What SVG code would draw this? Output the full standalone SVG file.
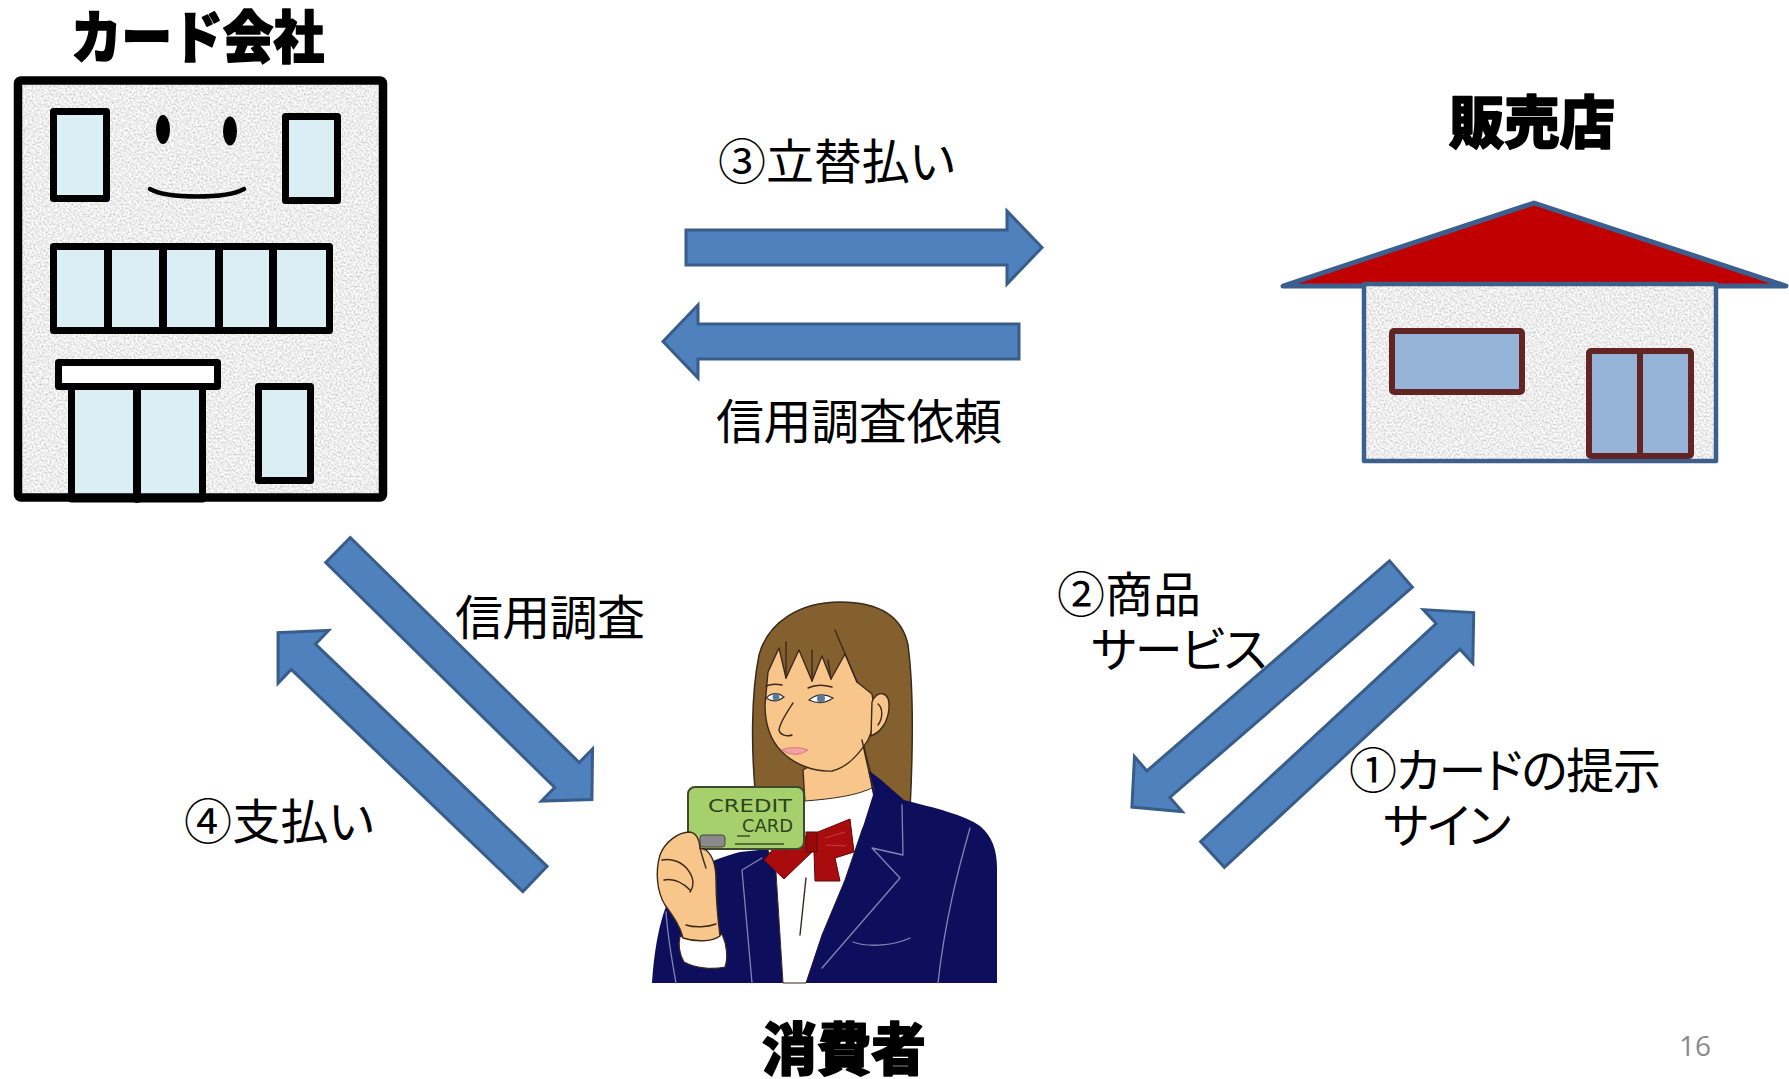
<svg xmlns="http://www.w3.org/2000/svg" width="1789" height="1079" viewBox="0 0 1789 1079">
  <style>
    .ttl { font-family: "Noto Sans CJK JP", "Noto Sans CJK SC", sans-serif; font-weight: 900; font-size: 57px; fill: #000; stroke: #000; stroke-width: 1.6; stroke-linejoin: round; }
    .lbl { font-family: "Noto Sans CJK JP", "Noto Sans CJK SC", sans-serif; font-size: 48px; fill: #000; font-feature-settings: "palt"; }
    .flow { fill: #4f81bd; stroke: #385d8a; stroke-width: 3; }
    .pane { fill: #daeef3; stroke: #000; stroke-width: 7; stroke-linejoin: round; }
    .bk { fill: none; stroke: #000; stroke-width: 8; stroke-linecap: round; stroke-linejoin: round; }
    .shopwin { fill: #95b3d7; stroke: #632523; stroke-width: 6; stroke-linejoin: round; }
    .ink { fill: none; stroke: #3b2a1c; stroke-width: 1.4; stroke-linecap: round; stroke-linejoin: round; }
    .skin { fill: #f8c68a; stroke: #3b2a1c; stroke-width: 1.4; stroke-linejoin: round; }
    .seam { fill: none; stroke: #8284b4; stroke-width: 1.3; stroke-linecap: round; stroke-linejoin: round; }
    .cardtxt { font-family: "DejaVu Sans", sans-serif; font-size: 17px; fill: #2d4420; }
  </style>
  <defs>
    <!-- speckled plaster finish for the walls -->
    <filter id="stucco" x="0" y="0" width="1" height="1" color-interpolation-filters="sRGB">
      <feTurbulence type="fractalNoise" baseFrequency="0.5" numOctaves="3" seed="7" result="noise"/>
      <feColorMatrix in="noise" type="matrix" values="0.4 0 0 0 0.73  0.4 0 0 0 0.73  0.4 0 0 0 0.73  0 0 0 0 1" result="grain"/>
      <feComposite in="grain" in2="SourceGraphic" operator="in"/>
    </filter>
    <!-- block arrow, tail centre at origin, pointing along +x -->
    <path id="flowArrow" d="M 0 -17.5 H 321 V -36.5 L 356 0 L 321 36.5 V 17.5 H 0 Z"/>
  </defs>

  <rect width="1789" height="1079" fill="#fff"/>

  <!-- Card company building -->
  <g id="card-company">
    <text class="ttl" x="71" y="58" textLength="253" lengthAdjust="spacingAndGlyphs">カード会社</text>
    <rect x="18" y="80.5" width="365" height="417" fill="#ececec" filter="url(#stucco)"/>
    <rect class="pane" x="53.5" y="111.5" width="53" height="87"/>
    <rect class="pane" x="285.5" y="116.5" width="52" height="84"/>
    <ellipse cx="163" cy="129.5" rx="7" ry="14.5" fill="#000"/>
    <ellipse cx="230" cy="131" rx="7" ry="14.5" fill="#000"/>
    <path d="M 150 189 C 168 199, 226 199, 244 189" fill="none" stroke="#000" stroke-width="4.5" stroke-linecap="round"/>
    <rect class="pane" x="53.5" y="246.5" width="276" height="84"/>
    <path class="bk" d="M 108 248 V 329 M 163 248 V 329 M 219 248 V 329 M 273 248 V 329"/>
    <rect class="pane" x="71.5" y="386" width="131" height="113"/>
    <path class="bk" d="M 137 388 V 499"/>
    <rect x="58.5" y="362.5" width="159" height="24" fill="#fff" stroke="#000" stroke-width="7" stroke-linejoin="round"/>
    <rect class="pane" x="258.5" y="386.5" width="52" height="94"/>
    <rect x="18" y="80.5" width="365" height="417" rx="3" fill="none" stroke="#000" stroke-width="8.5"/>
  </g>

  <!-- Shop -->
  <g id="shop">
    <text class="ttl" x="1449" y="143" textLength="166" lengthAdjust="spacingAndGlyphs">販売店</text>
    <path d="M 1283 286 L 1534 203 L 1786 286 Z" fill="#c00000" stroke="#3b5f8f" stroke-width="5" stroke-linejoin="round"/>
    <rect x="1364" y="284" width="352" height="177" fill="#ececec" filter="url(#stucco)"/>
    <rect x="1364" y="284" width="352" height="177" fill="none" stroke="#3d5f8c" stroke-width="4.5" stroke-linejoin="round"/>
    <rect class="shopwin" x="1392" y="331" width="130" height="61" rx="2"/>
    <rect class="shopwin" x="1589" y="351" width="102" height="105" rx="2"/>
    <path d="M 1640 351 V 456" stroke="#632523" stroke-width="6"/>
  </g>

  <!-- Consumer -->
  <g id="consumer">
    <!-- hair behind head -->
    <path d="M 756 800 C 751 750, 751 695, 759 655 C 768 622, 800 602, 840 602 C 878 602, 902 616, 908 645 C 914 690, 913 750, 910 810 L 870 810 L 760 802 Z" fill="#84602f" stroke="#3b2a1c" stroke-width="1.5"/>
    <!-- neck -->
    <path class="skin" d="M 803 770 L 862 736 C 866 758, 870 775, 877 788 C 858 797, 830 800, 805 803 Z"/>
    <!-- jacket, left side -->
    <path d="M 652 983 C 654 950, 660 915, 672 893 C 685 872, 710 860, 740 852 L 768 849 L 776 872 L 783 983 Z" fill="#0e0f5c"/>
    <!-- shirt -->
    <path d="M 768 850 L 785 830 L 805 801 C 830 799, 858 796, 876 786 L 880 792 L 862 830 L 845 880 L 822 935 L 806 983 L 783 983 L 776 872 Z" fill="#fff" stroke="#3b2a1c" stroke-width="1"/>
    <path d="M 806 878 L 800 935" class="ink" stroke="#666"/>
    <!-- jacket, right side -->
    <path d="M 868 770 L 880 779 L 904 800 C 935 808, 965 815, 980 826 C 992 836, 997 850, 997 868 L 997 983 L 806 983 L 822 935 L 845 880 L 862 830 L 873 795 Z" fill="#0e0f5c"/>
    <path class="seam" d="M 902 805 L 903 855 L 872 848 L 900 878 L 822 968 M 970 828 C 958 870, 945 920, 938 983 M 853 942 C 870 948, 895 945, 910 938 M 762 858 L 742 870 L 752 983 M 666 912 C 668 940, 672 960, 676 983"/>
    <!-- face with fringe cut-out -->
    <path class="skin" d="M 765 705 L 768 672 L 779 648 L 786 678 L 799 650 L 812 681 L 822 656 L 831 679 L 845 654 L 857 682 L 872 694 C 876 712, 874 728, 868 740 C 858 756, 845 768, 832 771 C 815 772, 795 765, 782 752 C 770 740, 765 722, 765 705 Z"/>
    <path class="ink" d="M 786 642 L 786 678 M 812 650 L 812 681 M 828 660 L 831 679 M 835 630 L 857 682"/>
    <!-- ear -->
    <path class="skin" d="M 872 702 C 876 690, 890 690, 889 708 C 888 722, 881 732, 871 736 Z"/>
    <path class="ink" d="M 878 704 C 883 708, 883 718, 878 725"/>
    <!-- eyes, brows, nose, mouth -->
    <path d="M 766 698 Q 775 690 784 697 Q 775 704 766 698 Z" fill="#fff" stroke="#333" stroke-width="1.2"/>
    <circle cx="776" cy="697" r="3.5" fill="#5d7894"/>
    <path d="M 809 700 Q 820 691 833 698 Q 822 706 809 700 Z" fill="#fff" stroke="#333" stroke-width="1.2"/>
    <circle cx="821" cy="698.5" r="4" fill="#5d7894"/>
    <path class="ink" d="M 766 686 Q 773 683 782 685 M 808 688 Q 818 683 832 687"/>
    <path class="ink" d="M 793 703 C 787 712, 780 722, 779 730 C 780 735, 787 737, 792 735"/>
    <path d="M 781 750 Q 795 745 808 750 Q 796 759 781 750 Z" fill="#f2a0a0" stroke="#c97070" stroke-width="0.8"/>
    <path class="ink" d="M 862 740 C 866 758, 869 775, 874 790"/>
    <!-- bow tie -->
    <path d="M 810 835 L 778 843 L 764 860 L 784 879 L 812 852 Z" fill="#a80c0c" stroke="#5e0a0a" stroke-width="1"/>
    <path d="M 813 834 L 850 819 L 854 852 L 835 858 L 840 881 L 815 881 L 814 852 Z" fill="#a80c0c" stroke="#5e0a0a" stroke-width="1"/>
    <rect x="806" y="832" width="11" height="20" fill="#9a0808" stroke="#5e0a0a" stroke-width="1"/>
    <path d="M 825 838 L 845 832 M 826 845 L 846 846 M 790 850 L 805 845" stroke="#d24a4a" stroke-width="0.8" fill="none"/>
    <!-- credit card -->
    <rect x="688" y="787" width="116" height="62" rx="7" fill="#a6d06c" stroke="#3e4a2c" stroke-width="2"/>
    <text class="cardtxt" x="708" y="812" textLength="84" lengthAdjust="spacingAndGlyphs">CREDIT</text>
    <text class="cardtxt" x="742" y="832" textLength="51" lengthAdjust="spacingAndGlyphs">CARD</text>
    <rect x="700" y="835" width="25" height="12" rx="3" fill="#8a8a8a" stroke="#444" stroke-width="1"/>
    <path d="M 737 836 H 750 M 735 844 H 784" stroke="#3e4a2c" stroke-width="1.6" fill="none"/>
    <!-- hand and cuff -->
    <path d="M 680 936 C 692 942, 712 942, 722 934 C 727 945, 728 958, 725 967 C 712 970, 695 968, 684 962 C 680 955, 678 945, 680 936 Z" fill="#fff" stroke="#3b2a1c" stroke-width="1.2"/>
    <path class="skin" d="M 690 832 C 678 832, 665 842, 660 855 C 655 872, 657 892, 665 905 C 672 915, 680 925, 683 938 C 695 942, 712 942, 720 936 C 718 920, 716 900, 716 880 C 716 866, 712 855, 706 850 L 700 848 C 700 840, 696 833, 690 832 Z"/>
    <path class="ink" d="M 662 860 C 672 858, 682 862, 688 870 M 664 880 C 674 878, 682 882, 690 890 M 688 870 C 694 878, 694 886, 690 892 M 700 848 C 702 856, 704 862, 706 868 M 686 925 C 695 928, 708 927, 716 924"/>
  </g>

  <!-- Flows between the three parties -->
  <g id="connectors">
    <use href="#flowArrow" class="flow" transform="translate(686 247.5)"/>
    <use href="#flowArrow" class="flow" transform="translate(1019 341.5) rotate(180)"/>
    <use href="#flowArrow" class="flow" transform="translate(338 550) rotate(44.5)"/>
    <use href="#flowArrow" class="flow" transform="translate(535 879) rotate(223.8)"/>
    <use href="#flowArrow" class="flow" transform="translate(1401 574) rotate(139.1)"/>
    <use href="#flowArrow" class="flow" transform="translate(1212.5 854.5) rotate(-42.8)"/>
  </g>

  <!-- Flow labels -->
  <g id="labels">
    <text class="lbl" x="718" y="179" textLength="237">③立替払い</text>
    <text class="lbl" x="716" y="439" textLength="286">信用調査依頼</text>
    <text class="lbl" x="455" y="635" textLength="190">信用調査</text>
    <text class="lbl" x="184" y="839" textLength="190">④支払い</text>
    <text class="lbl" x="1057" y="612" textLength="144">②商品</text>
    <text class="lbl" x="1091" y="667" textLength="176">サービス</text>
    <text class="lbl" x="1349" y="788" textLength="312">①カードの提示</text>
    <text class="lbl" x="1383" y="843" textLength="128">サイン</text>
  </g>

  <g id="consumer-title">
    <text class="ttl" x="762" y="1070" textLength="164" lengthAdjust="spacingAndGlyphs">消費者</text>
  </g>

  <text x="1679" y="1056" font-family="'Open Sans', sans-serif" font-size="28" fill="#898989">16</text>
</svg>
